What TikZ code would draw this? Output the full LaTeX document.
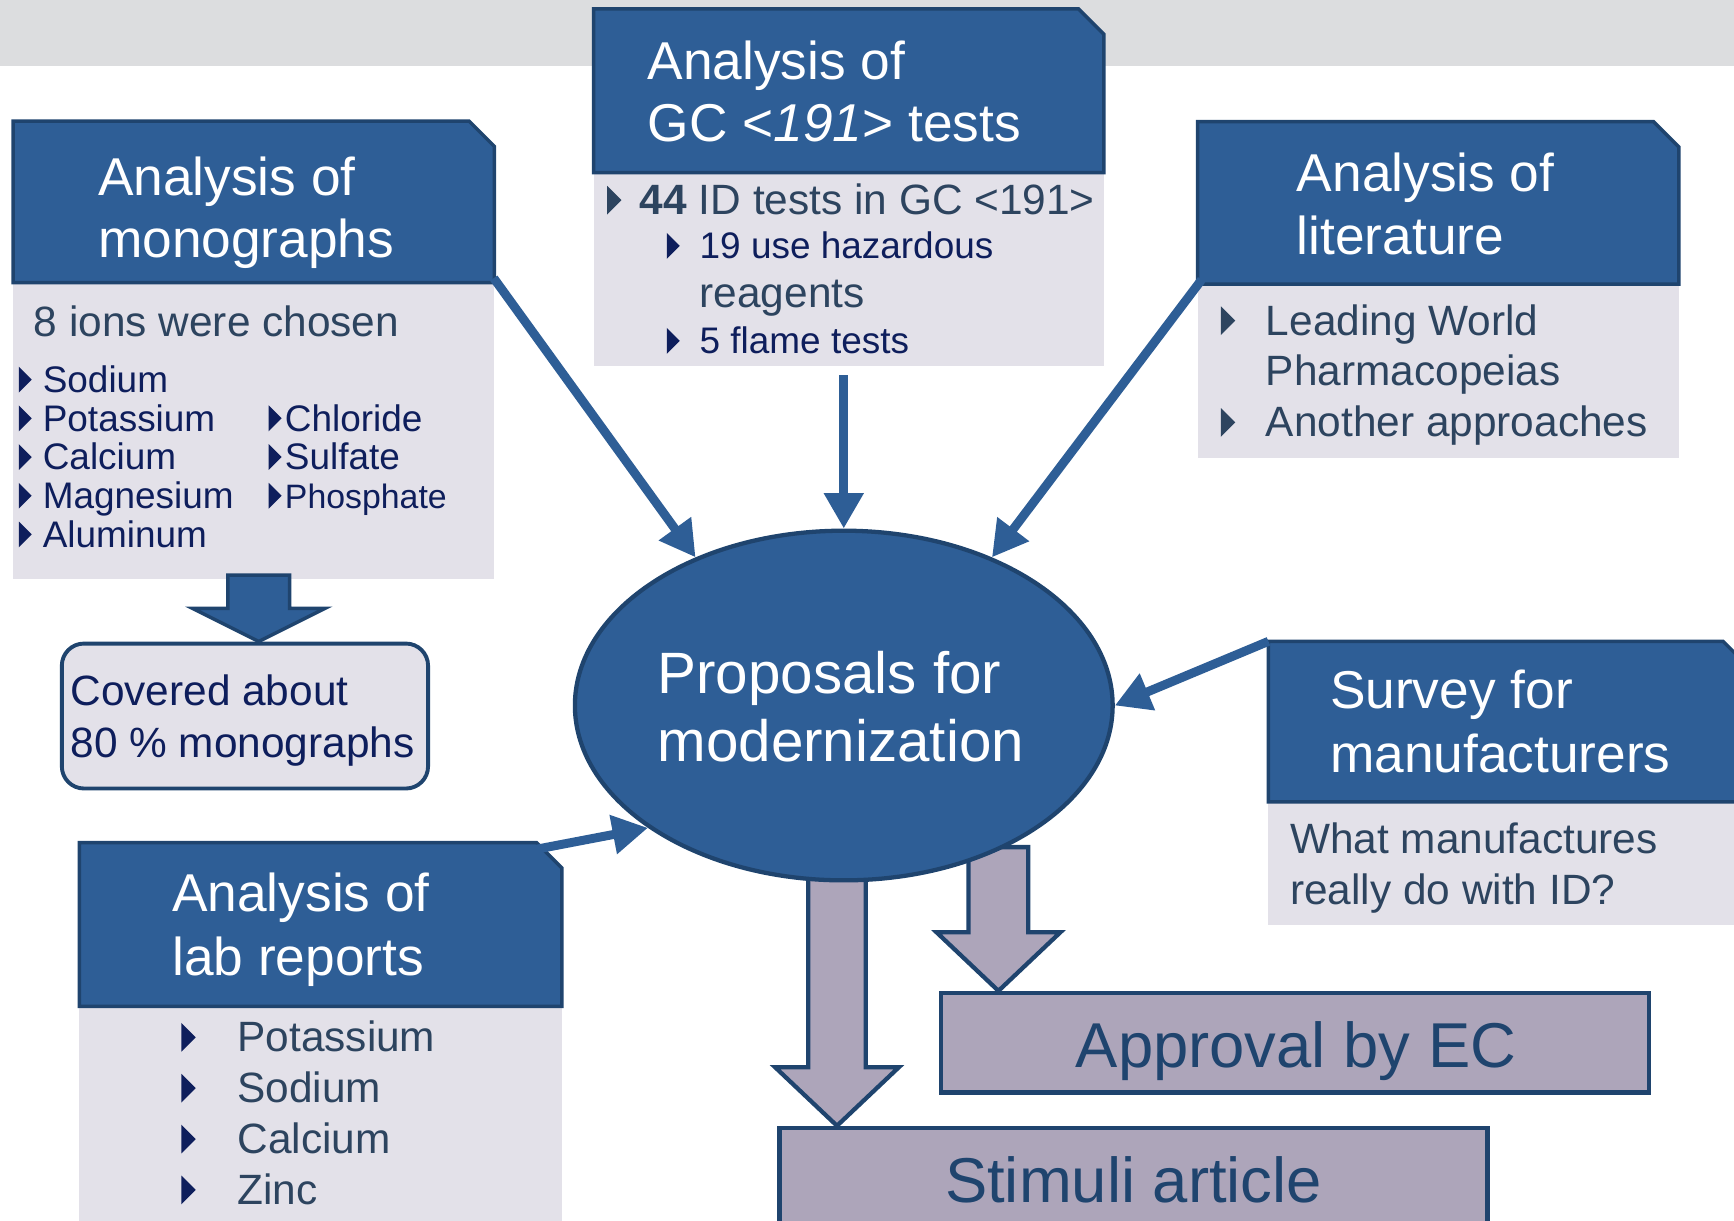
\documentclass[tikz,border=0pt]{standalone}
\usepackage{fontspec}
\setmainfont{Liberation Sans}
\usetikzlibrary{positioning,shapes.geometric,arrows.meta,calc}
\definecolor{hdblue}{RGB}{46,94,150}
\definecolor{rimblue}{RGB}{31,68,110}
\definecolor{lavender}{RGB}{227,225,233}
\definecolor{mauve}{RGB}{173,165,186}
\definecolor{slate}{RGB}{45,68,95}
\definecolor{navy}{RGB}{14,30,92}
\definecolor{band}{RGB}{220,221,223}
% header outline with the cut top right corner
\newcommand\hdbox[1]{\filldraw[fill=hdblue, draw=rimblue, line width=0.9pt] (#1.south west) -- (#1.north west)
  -- ([xshift=-0.23cm]#1.north east) -- ([yshift=-0.23cm]#1.north east) -- (#1.south east) -- cycle;}

\begin{document}
\begin{tikzpicture}[x=0.01cm, y=-0.01cm]
\tikzset{head/.style={inner sep=0pt, outer sep=0pt, minimum height=1.46cm},
         body/.style={fill=lavender, inner sep=0pt},
         hdtxt/.style={anchor=base west, inner sep=0pt, text=white, font=\fontsize{13.7}{16}\selectfont},
         bigtxt/.style={anchor=base west, inner sep=0pt, text=slate, font=\fontsize{10.9}{13}\selectfont},
         smalltxt/.style={anchor=base west, inner sep=0pt, text=navy, font=\fontsize{9.5}{11}\selectfont},
         conn/.style={draw=hdblue, line width=2.3pt, -{Triangle[length=0.32cm, width=0.34cm]}},
         block/.style={draw=rimblue, line width=1.1pt, fill=mauve},
         endtxt/.style={anchor=base, inner sep=0pt, text=rimblue, font=\fontsize{16.3}{19}\selectfont},
         bul/.pic={\fill (0,0) -- (0,-26) -- (13,-13) -- cycle;}}
\useasboundingbox (0,0) rectangle (1568,1104);
\clip (0,0) rectangle (1568,1104);
\fill[band] (0,0) rectangle (1568,60);

% end boxes, their arrows go under the ellipse
\node[block, inner sep=0pt, minimum width=6.4cm, minimum height=0.9cm] (appr) at (1171,943) {};
\node[block, inner sep=0pt, minimum width=6.4cm, minimum height=1.0cm] (stim) at (1025,1070) {};
\node[endtxt] (apprT) at (1172,965) {Approval by EC};
\node[endtxt] (stimT) at (1025,1087) {Stimuli article};
\draw[block] (stim.north west) ++(54,0) -- ++(-56,-53) -- ++(30,0) -- ++(0,-181) -- ++(52,0) -- ++(0,181) -- ++(30,0) -- cycle;
\draw[block] (appr.north west) ++(54,0) -- ++(-56,-53) -- ++(29,0) -- ++(0,-77) -- ++(54,0) -- ++(0,77) -- ++(29,0) -- cycle;

% centre
\node[ellipse, fill=hdblue, draw=rimblue, line width=1.1pt, inner sep=0pt, minimum width=4.86cm, minimum height=3.16cm] (prop) at (763,638) {};
\node[anchor=base west, inner sep=0pt, text=white, font=\fontsize{15}{18}\selectfont] (propT1) at (594,627) {Proposals for};
\node[anchor=base west, inner sep=0pt, text=white, font=\fontsize{15}{18}\selectfont] (propT2) at (594,689) {modernization};

% monographs
\node[head, minimum width=4.35cm] (monoH) at (229.5,182.5) {};
\node[body, minimum width=4.35cm, minimum height=2.67cm, below=0pt of monoH] (monoB) {};
\hdbox{monoH}
\node[hdtxt] (monoT1) at (88,177) {Analysis of};
\node[hdtxt] (monoT2) at (88,233) {monographs};
\node[bigtxt] (monoT3) at (30,304) {8 ions were chosen};
\foreach \ion [count=\i from 0] in {Sodium,Potassium,Calcium,Magnesium,Aluminum}{
  \pic[navy, scale=0.9] at (17,355+35*\i) {bul};
  \node[smalltxt] (monoL\i) at (38,355+35*\i) {\ion};
}
\foreach \ion [count=\i from 0] in {Chloride,Sulfate,{\fontsize{8.7}{11}\selectfont Phosphate}}{
  \pic[navy, scale=0.9] at (243,390+35*\i) {bul};
  \node[smalltxt] (anion\i) at (257,390+35*\i) {\ion};
}
\draw[fill=hdblue, draw=rimblue, line width=0.9pt] (monoB.south) ++(-23.5,-4) -- ++(0,30) -- ++(-32,0) -- ++(60,30) -- ++(60,-30) -- ++(-32,0) -- ++(0,-30) -- cycle;
\node[draw=rimblue, line width=1pt, fill=lavender, rounded corners=0.2cm, minimum width=3.31cm, minimum height=1.31cm] (cover) at (221.5,647.5) {};
\node[bigtxt, text=navy] (coverT1) at (63,638) {Covered about};
\node[bigtxt, text=navy] (coverT2) at (63,685) {80 \% monographs};

% GC <191>
\node[head, minimum width=4.61cm, minimum height=1.48cm] (gcH) at (767.5,82) {};
\node[body, minimum width=4.61cm, minimum height=1.74cm, below=0pt of gcH] (gcB) {};
\hdbox{gcH}
\node[hdtxt] (gcT1) at (585,72) {Analysis of};
\node[hdtxt] (gcT2) at (585,128) {GC <\textit{191}> tests};
\pic[slate] at (549,194) {bul};
\node[bigtxt] (gcL1) at (578,194) {\textbf{44} ID tests in GC <191>};
\pic[navy, scale=0.9] at (603,234) {bul};
\node[smalltxt] (gcL2) at (632,234) {19 use hazardous};
\node[bigtxt] (gcL3) at (632,278) {reagents};
\pic[navy, scale=0.9] at (603,320) {bul};
\node[smalltxt] (gcL4) at (632,320) {5 flame tests};

% literature
\node[head, minimum width=4.35cm, minimum height=1.47cm] (litH) at (1300.5,183.5) {};
\node[body, minimum width=4.35cm, minimum height=1.56cm, below=0pt of litH] (litB) {};
\hdbox{litH}
\node[hdtxt] (litT1) at (1172,173) {Analysis of};
\node[hdtxt] (litT2) at (1172,230) {literature};
\pic[slate] at (1104,303) {bul};
\node[bigtxt] (litL1) at (1144,303) {Leading World};
\node[bigtxt] (litL2) at (1144,349) {Pharmacopeias};
\pic[slate] at (1104,395) {bul};
\node[bigtxt] (litL3) at (1144,395) {Another approaches};

% survey
\node[head, minimum width=4.34cm, minimum height=1.45cm] (survH) at (1364,652.5) {};
\node[body, minimum width=4.34cm, minimum height=1.11cm, below=0pt of survH] (survB) {};
\hdbox{survH}
\node[hdtxt] (survT1) at (1202,641) {Survey for};
\node[hdtxt] (survT2) at (1202,699) {manufacturers};
\node[bigtxt] (survL1) at (1166,772) {What manufactures};
\node[bigtxt] (survL2) at (1166,818) {really do with ID?};

% lab reports
\node[head, minimum width=4.36cm, minimum height=1.48cm] (labH) at (290,836) {};
\node[body, minimum width=4.36cm, minimum height=2.0cm, below=0pt of labH] (labB) {};
\hdbox{labH}
\node[hdtxt] (labT1) at (155,824) {Analysis of};
\node[hdtxt] (labT2) at (155,882) {lab reports};
\foreach \ion [count=\i from 0] in {Potassium,Sodium,Calcium,Zinc}{
  \pic[navy] at (164,951+46*\i) {bul};
  \node[bigtxt] (labL\i) at (214,951+46*\i) {\ion};
}

% connectors into the ellipse
\draw[conn] ($(monoH.south)+(217,-4)$) -- (prop.135);
\draw[conn, shorten <=0.08cm] (prop.north |- gcB.south) -- (prop.north);
\draw[conn] ($(litH.south)+(-214,-4)$) -- (prop.45);
\draw[conn] ($(survH.north)+(-217,0)$) -- (prop.east);
\draw[conn] ($(labH.north)+(195,6)$) -- (prop.212);
\end{tikzpicture}
\end{document}
